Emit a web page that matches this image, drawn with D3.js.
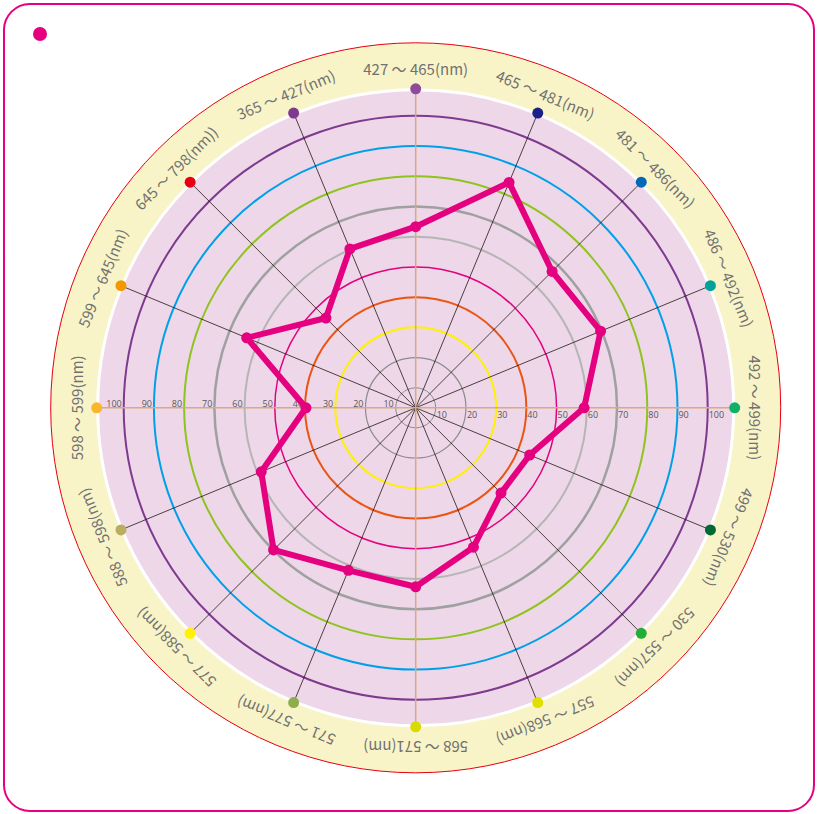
<!DOCTYPE html>
<html>
<head>
<meta charset="utf-8">
<script src="https://cdn.jsdelivr.net/npm/d3@7"></script>
<style>
  html, body { margin: 0; padding: 0; background: #fff; }
  svg { display: block; }
</style>
</head>
<body>
<svg id="chart" width="817" height="814"></svg>
<script>
// wavelength bands, clockwise from the top
const bands = [
  "427 ～ 465(nm)", "465 ～ 481(nm)", "481 ～ 486(nm)", "486 ～ 492(nm)",
  "492 ～ 499(nm)", "499 ～ 530(nm)", "530 ～ 557(nm)", "557 ～ 568(nm)",
  "568 ～ 571(nm)", "571 ～ 577(nm)", "577 ～ 588(nm)", "588 ～ 598(nm)",
  "598 ～ 599(nm)", "599 ～ 645(nm)", "645 ～ 798(nm))", "365 ～ 427(nm)"
];
const bandColors = [
  "#8e4a9b", "#1d2088", "#0068b7", "#00a29a",
  "#13ae67", "#006934", "#22ac38", "#dfe000",
  "#d8da00", "#8fad4c", "#fff100", "#bbad60",
  "#f8b62d", "#f39800", "#e60012", "#7d3a8f"
];
const values = [63.3, 84.1, 67.2, 69.6, 59.1, 44.2, 43.3, 53.3,
                62.6, 61.6, 69.9, 58.7, 39.7, 63.9, 45.4, 60.3];
const ringValues = [10, 20, 30, 40, 50, 60, 70, 80, 90, 100];
const ringColors = ["#8c8c8c", "#8c8c8c", "#fff100", "#ea5514", "#e4007f",
                    "#b5b5b6", "#9fa0a0", "#8fc31f", "#00a0e9", "#7d3a8e"];
const ringWidths = [1, 1.2, 2, 2, 1.5, 2, 2.5, 2, 2, 2];

const cx = 415.7, cy = 407.8;
const outerR = 365, plotR = 318, labelR = 333;

const svg = d3.select("#chart");

// frame
svg.append("rect")
  .attr("x", 4).attr("y", 4).attr("width", 810).attr("height", 807)
  .attr("rx", 26).attr("ry", 26)
  .attr("fill", "#fff").attr("stroke", "#e4007f").attr("stroke-width", 2);
svg.append("circle").attr("cx", 40).attr("cy", 34).attr("r", 7).attr("fill", "#e4007f");

const r = d3.scaleLinear().domain([10, 100]).range([20, 292]);
const angle = d3.scalePoint().domain(d3.range(bands.length)).range([0, 360 - 360 / bands.length]);

const g = svg.append("g").attr("transform", `translate(${cx},${cy})`);

// backgrounds
g.append("circle").attr("r", outerR).attr("fill", "#f8f4c7").attr("stroke", "#e60012").attr("stroke-width", 1);
g.append("circle").attr("r", plotR).attr("fill", "#eed7e8").attr("stroke", "#fff").attr("stroke-width", 3);

const pt = (i, rad) => {
  const a = angle(i) * Math.PI / 180;
  return [rad * Math.sin(a), -rad * Math.cos(a)];
};

// rings
g.append("g").selectAll("circle")
  .data(ringValues)
  .join("circle")
  .attr("r", d => r(d))
  .attr("fill", "none")
  .attr("stroke", (d, i) => ringColors[i])
  .attr("stroke-width", (d, i) => ringWidths[i]);

// spokes
g.append("g").selectAll("line")
  .data(bands.map((b, i) => i).filter(i => i % 4 !== 0))
  .join("line")
  .attr("x1", 0).attr("y1", 0)
  .attr("x2", i => pt(i, plotR)[0])
  .attr("y2", i => pt(i, plotR)[1])
  .attr("stroke", "#231815").attr("stroke-width", 0.8);
g.append("g").selectAll("line")
  .data([0, 4])
  .join("line")
  .attr("x1", i => pt(i, plotR)[0]).attr("y1", i => pt(i, plotR)[1])
  .attr("x2", i => pt(i + 8, plotR)[0]).attr("y2", i => pt(i + 8, plotR)[1])
  .attr("stroke", "#d9aa80").attr("stroke-width", 1.5);

// scale labels
const tickG = g.append("g").attr("font-family", "'Open Sans', 'Noto Sans', sans-serif")
  .attr("font-size", 9).attr("fill", "#595757");
tickG.selectAll("text.right")
  .data(ringValues)
  .join("text")
  .attr("class", "right")
  .attr("x", d => r(d) + 1).attr("y", 10)
  .text(d => d);
tickG.selectAll("text.left")
  .data(ringValues)
  .join("text")
  .attr("class", "left")
  .attr("text-anchor", "end")
  .attr("x", d => -r(d) - 2).attr("y", -1)
  .text(d => d);

// endpoint dots
g.append("g").selectAll("circle")
  .data(bands)
  .join("circle")
  .attr("cx", (d, i) => pt(i, plotR + 1)[0])
  .attr("cy", (d, i) => pt(i, plotR + 1)[1])
  .attr("r", 5.5)
  .attr("fill", (d, i) => bandColors[i]);

// band labels, rotated around the circle
g.append("g").selectAll("text")
  .data(bands)
  .join("text")
  .attr("transform", (d, i) => `rotate(${angle(i)}) translate(0,${-labelR})`)
  .attr("text-anchor", "middle")
  .attr("font-family", "'Noto Sans CJK JP', 'Noto Sans', sans-serif")
  .attr("font-size", 15)
  .attr("fill", "#727171")
  .text(d => d);

// data polygon
const line = d3.lineRadial()
  .angle((d, i) => angle(i) * Math.PI / 180)
  .radius(d => r(d))
  .curve(d3.curveLinearClosed);
g.append("path")
  .datum(values)
  .attr("d", line)
  .attr("fill", "none")
  .attr("stroke", "#e4007f")
  .attr("stroke-width", 6)
  .attr("stroke-linejoin", "round");
g.append("g").selectAll("circle")
  .data(values)
  .join("circle")
  .attr("cx", (d, i) => pt(i, r(d))[0])
  .attr("cy", (d, i) => pt(i, r(d))[1])
  .attr("r", 5.5)
  .attr("fill", "#e4007f");
</script>
</body>
</html>
